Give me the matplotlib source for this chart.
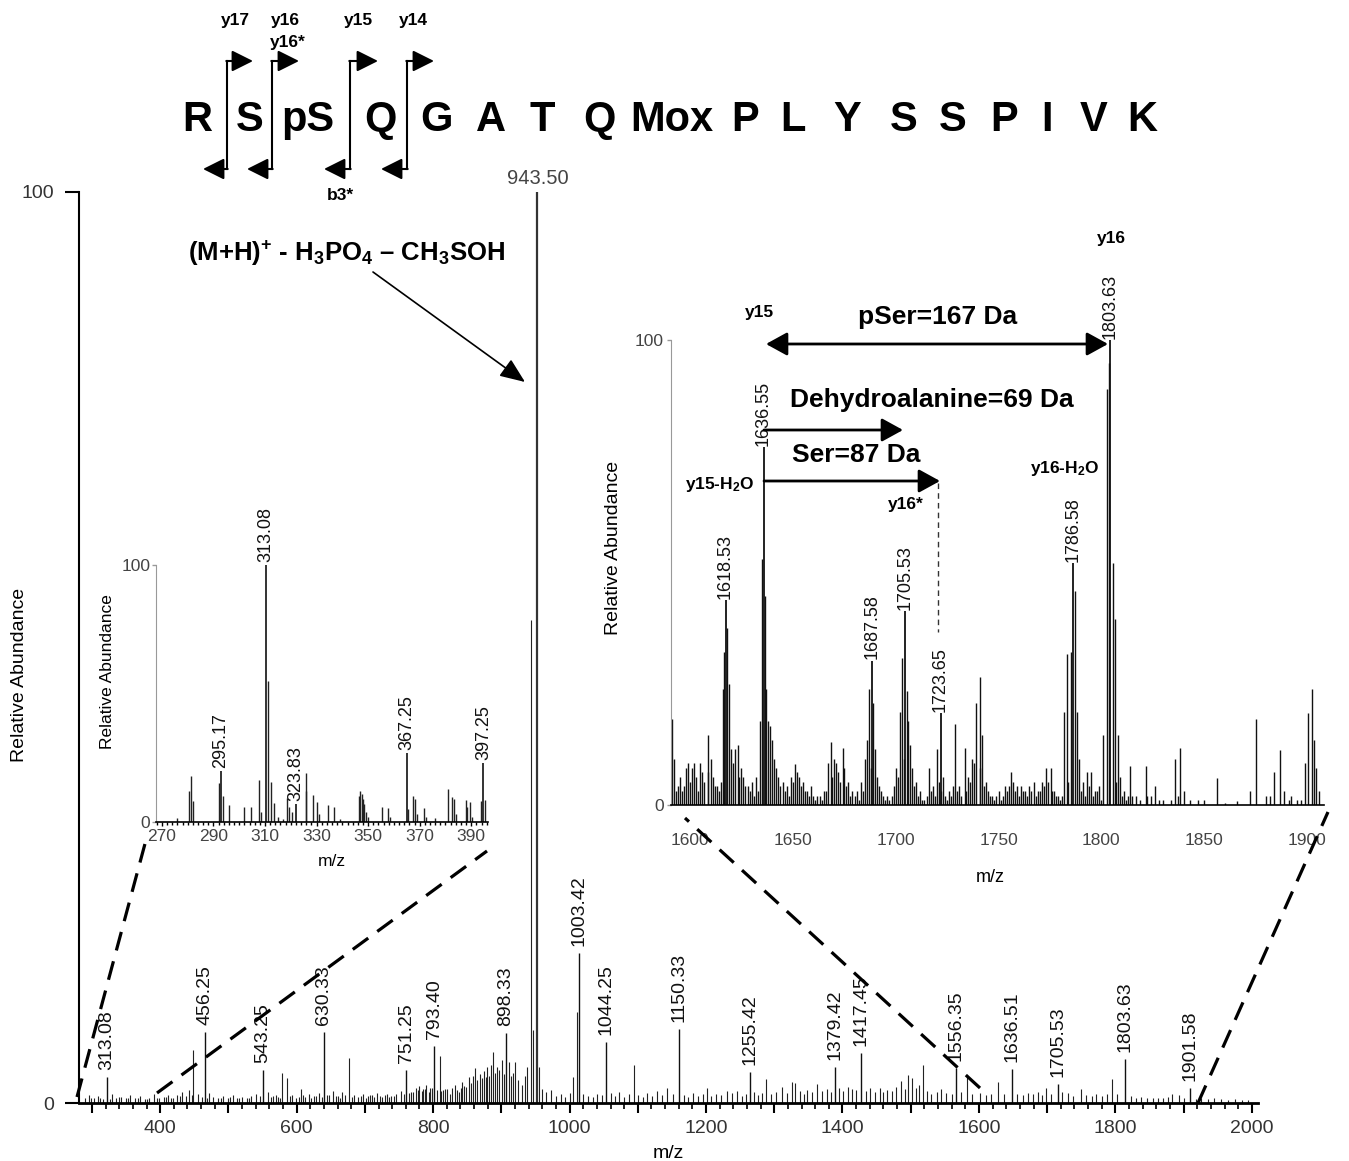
import matplotlib
matplotlib.use('Agg')
import matplotlib.pyplot as plt
from matplotlib.ticker import MultipleLocator, FuncFormatter

plt.rcParams['font.family'] = ['Liberation Sans', 'DejaVu Sans']
plt.rcParams['mathtext.fontset'] = 'custom'
plt.rcParams['mathtext.rm'] = 'Liberation Sans:bold'
plt.rcParams['mathtext.bf'] = 'Liberation Sans:bold'
plt.rcParams['mathtext.it'] = 'Liberation Sans:bold:italic'

##DATOS

# espectro principal: picos etiquetados
main_lab_mz = [322, 466, 551, 640, 761, 802, 907, 1014, 1053, 1160, 1264, 1389, 1427, 1566, 1648, 1716, 1814, 1910]
main_lab_int = [2.9, 7.8, 3.6, 7.8, 3.6, 6.3, 7.7, 16.5, 6.7, 8.1, 3.4, 4.0, 5.5, 3.8, 3.7, 2.1, 4.8, 1.6]
main_lab_txt = ['313.08', '456.25', '543.25', '630.33', '751.25', '793.40', '898.33', '1003.42', '1044.25',
                '1150.33', '1255.42', '1379.42', '1417.45', '1556.35', '1636.51', '1705.53', '1803.63', '1901.58']
base_mz = 952
base_int = 100
base_txt = '943.50'

# espectro principal: otros picos
main_mz = [448, 579, 586, 606, 618, 677, 810, 943, 946, 955, 1005, 1011, 1094, 1288, 1311, 1326, 1330, 1362,
           1486, 1496, 1502, 1518, 1582, 1628, 1698, 1795,
           820, 825, 832, 838, 843, 848, 852, 856, 859, 862, 865, 868, 871, 874, 877, 879, 882, 885, 888,
           891, 894, 897, 901, 904, 911, 914, 917, 920, 925, 930, 935, 938, 960, 966, 973,
           290, 296, 303, 309, 316, 329, 335, 342, 350, 356, 363, 370, 377, 384, 391, 398, 405, 412, 419,
           425, 432, 438, 442, 455, 472, 478, 485, 492, 499, 506, 513, 520, 527, 533, 540, 558, 565, 572,
           593, 599, 612, 625, 633, 647, 653, 660, 667, 684, 690, 697, 704, 711, 718, 725, 732, 739, 746,
           753, 768, 775, 780, 785, 790, 796, 815, 980, 987, 993, 1000, 1020, 1027, 1034, 1040, 1047, 1060,
           1066, 1073, 1080, 1087, 1100, 1107, 1114, 1121, 1128, 1135, 1143, 1152, 1167, 1174, 1181, 1188,
           1195, 1201, 1208, 1215, 1222, 1231, 1238, 1245, 1252, 1258, 1270, 1276, 1282, 1295, 1303, 1318,
           1337, 1343, 1348, 1355, 1370, 1377, 1383, 1395, 1401, 1408, 1414, 1420, 1434, 1441, 1448, 1455,
           1460, 1465, 1472, 1479, 1491, 1508, 1512, 1524, 1530, 1538, 1545, 1552, 1560, 1573, 1590, 1601,
           1610, 1617, 1637, 1656, 1664, 1672, 1679, 1686, 1692, 1705, 1722, 1730, 1738, 1749, 1757, 1765,
           1772, 1780, 1788, 1803, 1823, 1830, 1838, 1846, 1855, 1862, 1870, 1877, 1883, 1893, 1900, 1918,
           1925, 1935, 1945, 1955, 1965, 1975, 1985, 1995,
           299, 312, 326, 339, 353, 367, 381, 395, 409, 416, 429, 446, 462, 469, 489, 503, 516, 530, 547,
           562, 569, 576, 590, 603, 609, 621, 629, 637, 644, 657, 664, 671, 681, 694, 701, 708, 714, 722,
           729, 736, 743, 757, 764, 771, 778, 783, 788, 794, 799, 806, 812, 818, 828, 835, 841, 846]
main_int = [5.8, 3.3, 2.7, 1.5, 1.0, 4.9, 5.2, 53, 8, 3.9, 2.8, 10, 4.2, 2.6, 1.8, 2.3, 2.2, 2.1,
            2.4, 3.1, 2.7, 4.2, 3.1, 2.3, 1.6, 2.6,
            1.5, 1.0, 2.0, 1.2, 2.3, 1.8, 2.8, 2.2, 3.0, 3.8, 2.5, 3.2, 2.7, 3.5, 2.9, 3.9, 3.0, 4.2, 5.6,
            3.3, 4.0, 3.6, 4.7, 3.2, 4.5, 3.0, 3.3, 4.5, 2.5, 2.0, 3.0, 4.0, 1.5, 1.2, 1.4,
            0.6, 0.9, 0.5, 0.8, 0.4, 1.0, 0.6, 0.7, 0.5, 0.9, 0.6, 0.8, 0.4, 0.6, 1.0, 0.5, 0.7, 0.9, 0.6,
            0.9, 1.2, 0.8, 1.4, 1.0, 1.1, 0.7, 0.6, 0.8, 0.5, 0.9, 0.6, 0.7, 0.5, 0.8, 1.0, 1.2, 0.8, 0.7,
            0.9, 0.6, 0.7, 0.8, 1.1, 0.9, 1.3, 0.8, 1.2, 0.9, 0.7, 1.0, 0.8, 0.9, 1.1, 0.7, 1.0, 0.8, 1.0,
            1.3, 1.2, 1.6, 1.9, 1.5, 2.0, 1.7, 1.4, 0.8, 1.0, 0.7, 1.1, 1.0, 0.8, 0.7, 1.0, 0.9, 1.1,
            0.8, 1.2, 0.7, 1.0, 0.9, 0.7, 1.1, 0.8, 1.3, 0.9, 1.6, 1.0, 0.9, 0.7, 1.1, 0.8,
            1.0, 1.6, 0.8, 1.0, 0.9, 1.3, 1.1, 1.3, 0.8, 1.0, 1.2, 0.9, 1.1, 1.0, 1.2, 1.1,
            1.3, 1.0, 1.4, 1.2, 1.3, 1.5, 1.2, 1.6, 1.3, 1.8, 1.5, 1.4, 1.3, 1.6, 1.2, 1.7,
            1.2, 1.4, 1.3, 1.8, 1.5, 1.6, 2.0, 1.3, 1.0, 1.2, 1.5, 1.1, 1.0, 1.2, 1.0, 1.1,
            0.9, 1.0, 1.0, 1.0, 0.9, 1.1, 1.0, 1.2, 0.9, 1.0, 1.2, 1.1, 0.8, 1.5, 0.9, 0.8,
            1.0, 0.8, 1.0, 1.0, 0.8, 0.6, 0.7, 0.6, 0.5, 0.6, 0.5, 0.7, 1.0, 0.9, 0.6, 0.4,
            0.5, 0.4, 0.5, 0.4, 0.3, 0.4, 0.3, 0.3,
            0.5, 0.6, 0.4, 0.7, 0.5, 0.6, 0.4, 0.5, 0.7, 0.6, 0.8, 0.9, 0.7, 0.6, 0.5, 0.7, 0.6, 0.5, 0.8,
            0.7, 0.9, 0.6, 0.8, 0.7, 0.9, 0.6, 0.8, 0.7, 0.9, 0.8, 0.6, 0.9, 0.7, 0.8, 0.6, 0.9, 0.7, 0.8,
            0.9, 0.7, 0.8, 1.0, 1.1, 1.2, 1.4, 1.3, 1.5, 1.2, 1.6, 1.4, 1.3, 1.5, 1.7, 1.4, 1.6, 1.9]

# inserto izquierdo (270-390)
left_lab_mz = [292.8, 310.5, 322.0, 365.0, 394.7]
left_lab_int = [20, 100, 7, 27, 23]
left_lab_txt = ['295.17', '313.08', '323.83', '367.25', '397.25']
left_mz = [276, 280.5, 281.2, 282, 292, 293.6, 296, 301.7, 304.7, 307.5, 308.3, 311.3, 312.4, 313.4, 315, 317,
           318.6, 319.2, 320.5, 325.7, 326, 328.7, 330, 331, 334.5, 336.8, 339, 346.5, 347, 347.5, 348, 348.5,
           349.2, 350, 355.3, 357.6, 358.3, 365.5, 367.3, 368, 369, 371.5, 372.5, 376, 380.8, 382.4, 383.3,
           384, 387.8, 388.4, 389.7, 390.3, 393.8, 395.3]
left_int = [1.5, 12, 18, 8, 15, 10, 6.6, 5.8, 5.8, 16.3, 4, 55, 15.6, 7.3, 2, 1, 9.4, 6, 4, 12, 19, 10.5, 7.8, 3,
            6.6, 6, 1, 10, 12, 11, 9, 7, 4, 2, 6, 5.5, 2, 5, 10, 9, 3, 5.5, 2, 1.5, 12.8, 9.7, 9, 3, 8.5, 6,
            7.6, 2, 8, 8.5]
left_ticks = [270, 290, 310, 330, 350, 370, 390]

# inserto derecho (1600-1900)
right_lab_mz = [1617.3, 1635.8, 1688.4, 1704.5, 1721.8, 1786.2, 1804.2]
right_lab_int = [44, 77, 31, 41.7, 19.7, 52, 100]
right_lab_txt = ['1618.53', '1636.55', '1687.58', '1705.53', '1723.65', '1786.58', '1803.63']
right_mz = [1591.5, 1592.5, 1594, 1596, 1598, 1599, 1601, 1602, 1603, 1605, 1606, 1607, 1608.8, 1610, 1611,
            1613, 1616, 1616.5, 1618, 1619, 1620, 1621, 1622, 1623.5, 1625, 1626, 1628, 1630, 1632, 1634,
            1635, 1636.5, 1637, 1638, 1639, 1640, 1641, 1642, 1643, 1645, 1647, 1649, 1651, 1652, 1653, 1655,
            1657, 1659, 1662, 1665, 1667, 1668.8, 1670, 1671, 1672, 1674.3, 1675, 1677, 1679, 1681, 1683,
            1685, 1686, 1687, 1689, 1690, 1691, 1693, 1696, 1699, 1700, 1702, 1703, 1705.5, 1706, 1707, 1708,
            1710, 1712, 1716, 1718, 1720, 1723, 1726, 1729, 1731, 1733.8, 1735, 1737, 1739, 1740.8, 1742,
            1744, 1747, 1750, 1753, 1756, 1757, 1759, 1761, 1763, 1765, 1767, 1769, 1771, 1773, 1775.4,
            1777, 1779, 1782, 1783.5, 1785, 1787, 1788, 1789, 1791, 1793, 1795, 1797, 1799, 1801, 1802.5,
            1803.5, 1805.5, 1806.5, 1808, 1809, 1811, 1814, 1817, 1821.5, 1824, 1826, 1830, 1836, 1838,
            1840, 1843, 1847, 1856, 1860, 1866, 1875.3, 1880, 1884, 1886.6, 1889, 1892, 1895, 1899, 1900.5,
            1902.3, 1903.5, 1904.5, 1906,
            1593, 1595, 1597, 1600, 1604, 1609, 1612, 1614, 1615, 1624, 1627, 1629, 1631, 1633, 1644, 1646,
            1648, 1650, 1654, 1656, 1658, 1660, 1661, 1663, 1664, 1666, 1669, 1673, 1676, 1678, 1680, 1682,
            1684, 1688, 1692, 1694, 1695, 1697, 1698, 1701, 1704, 1709, 1711, 1713, 1714, 1715, 1717, 1719,
            1721, 1722, 1724, 1725, 1727, 1728, 1730, 1732, 1734, 1736, 1738, 1741, 1743, 1745, 1746, 1748,
            1749, 1751, 1752, 1754, 1755, 1758, 1760, 1762, 1764, 1766, 1768, 1770, 1772, 1774, 1776, 1778,
            1780, 1781, 1784, 1790, 1792, 1794, 1796, 1798, 1800, 1807, 1810, 1812, 1813, 1815, 1819, 1822,
            1828, 1834, 1837, 1850, 1872, 1882, 1891, 1897]
right_int = [18.4, 10, 4, 3, 8, 9, 8, 9, 6, 9, 7, 5, 15, 10, 6,
             4, 25, 33, 38, 26, 12, 9, 12, 13, 8, 6, 4, 5, 6, 18,
             53, 45, 25, 18, 17, 14, 10, 8, 6, 5, 4, 6, 8.8, 7, 6, 5,
             3, 4, 2, 3, 9, 13.6, 10, 9, 7, 12.3, 8, 5, 3, 3, 5,
             10, 14, 25, 22, 12, 6, 3, 2, 4, 8, 20, 31.6, 24.6, 18, 13, 8,
             5, 3, 8, 4, 12, 6, 3, 17.5, 4, 12.3, 6, 10, 22, 27.6, 15,
             5, 2, 3, 4, 7, 5, 4, 4, 3, 4, 5, 3, 5, 7.9, 7.9,
             3, 2, 20, 32.5, 33, 46, 20, 10, 5, 7, 7, 3, 4, 15, 89.5,
             95, 52, 40, 15, 6, 3, 8.3, 2, 8.3, 2, 4, 1, 10, 12.3,
             3, 1, 1, 5.7, 0.5, 0.8, 18.4, 2, 7, 11.8, 3, 2, 1, 9, 19.7,
             25, 14, 7.9, 3,
             3, 6, 4, 5, 3, 7, 4, 3, 5, 6, 4, 3, 2, 3, 4, 3,
             2, 5, 4, 3, 2, 2, 1, 2, 1, 3, 6, 5, 4, 2, 2, 1,
             3, 8, 4, 2, 1, 1, 2, 6, 10, 4, 2, 1, 1, 2, 3, 2,
             5, 3, 2, 1, 2, 4, 3, 2, 3, 5, 9, 8, 4, 3, 2, 1,
             2, 1, 2, 3, 4, 3, 2, 3, 2, 3, 2, 3, 4, 5, 3, 2,
             1, 2, 5, 3, 2, 4, 2, 3, 1, 5, 2, 1, 2, 2, 1, 2,
             1, 1, 2, 1, 3, 2, 1, 1]

secuencia = ['R', 'S', 'pS', 'Q', 'G', 'A', 'T', 'Q', 'Mox', 'P', 'L', 'Y', 'S', 'S', 'P', 'I', 'V', 'K']

##FIGURA

W, H = 1349, 1161


def caja(x0, y0, x1, y1):
    return [x0 / W, 1 - y1 / H, (x1 - x0) / W, (y1 - y0) / H]


fig = plt.figure(figsize=(W / 100, H / 100), dpi=100)

# ---- espectro principal
ax = fig.add_axes(caja(79, 192, 1258, 1103))
ax.set_facecolor('none')
ax.vlines(main_mz, 0, main_int, colors='#222222', lw=0.8)
ax.vlines(main_lab_mz, 0, main_lab_int, colors='#111111', lw=1.0)
ax.vlines([base_mz], 0, [base_int], colors='#333333', lw=1.6)
for m, h, t in zip(main_lab_mz, main_lab_int, main_lab_txt):
    ax.annotate(t, (m, h), xytext=(0, 5), textcoords='offset points', rotation=90,
                ha='center', va='bottom', fontsize=14, color='#111111')
ax.annotate(base_txt, (base_mz, base_int), xytext=(1, 3), textcoords='offset points',
            ha='center', va='bottom', fontsize=14.5, color='#444444')
ax.set_xlim(281, 2009)
ax.set_ylim(0, 100)
for s in ['top', 'right']:
    ax.spines[s].set_visible(False)
ax.spines['left'].set_linewidth(1.5)
ax.spines['bottom'].set_linewidth(2)
ax.xaxis.set_major_locator(MultipleLocator(100))
ax.xaxis.set_minor_locator(MultipleLocator(20))
ax.xaxis.set_major_formatter(FuncFormatter(lambda v, p: f'{v:.0f}' if v % 200 == 0 else ''))
ax.tick_params(axis='x', which='major', length=7, width=1.5, labelsize=14, pad=5, labelcolor='#333333')
ax.tick_params(axis='x', which='minor', length=4, width=1.2)
ax.set_yticks([0, 100])
ax.tick_params(axis='y', length=10, width=1.5, labelsize=14, pad=8, labelcolor='#333333')

# ---- inserto izquierdo
axl = fig.add_axes(caja(156, 565, 488, 822))
axl.set_facecolor('none')
axl.vlines(left_mz, 0, left_int, colors='#222222', lw=1.0)
axl.vlines(left_lab_mz, 0, left_lab_int, colors='#111111', lw=1.2)
for m, h, t in zip(left_lab_mz, left_lab_int, left_lab_txt):
    axl.annotate(t, (m, h), xytext=(0, 2), textcoords='offset points', rotation=90,
                 ha='center', va='bottom', fontsize=13, color='#111111')
axl.set_xlim(267.7, 396.5)
axl.set_ylim(0, 100)
for s in ['top', 'right']:
    axl.spines[s].set_visible(False)
axl.spines['left'].set_color('#999999')
axl.spines['bottom'].set_linewidth(1.2)
axl.set_xticks(left_ticks)
axl.xaxis.set_minor_locator(MultipleLocator(2))
axl.tick_params(axis='x', which='major', length=3, width=1, labelsize=12.5, pad=2, labelcolor='#444444')
axl.tick_params(axis='x', which='minor', length=2, width=1)
axl.set_yticks([0, 100])
axl.tick_params(axis='y', length=3, width=1, labelsize=12.5, pad=1, labelcolor='#444444', color='#999999')

# ---- inserto derecho
axr = fig.add_axes(caja(671, 340, 1324, 805))
axr.set_facecolor('none')
axr.vlines(right_mz, 0, right_int, colors='#111111', lw=1.0)
axr.vlines(right_lab_mz, 0, right_lab_int, colors='#111111', lw=1.3)
for m, h, t in zip(right_lab_mz, right_lab_int, right_lab_txt):
    axr.annotate(t, (m, h), xytext=(0, 1), textcoords='offset points', rotation=90,
                 ha='center', va='bottom', fontsize=13, color='#111111')
axr.set_xlim(1590.8, 1908.2)
axr.set_ylim(0, 100)
for s in ['top', 'right']:
    axr.spines[s].set_visible(False)
axr.spines['left'].set_color('#999999')
axr.spines['bottom'].set_linewidth(1.2)
axr.xaxis.set_major_locator(MultipleLocator(50))
axr.tick_params(axis='x', length=0, labelsize=12.5, pad=20, labelcolor='#444444')
axr.set_yticks([0, 100])
axr.tick_params(axis='y', length=3, width=1, labelsize=12.5, pad=2, labelcolor='#444444', color='#999999')

# ---- capa de anotaciones en pixeles
ov = fig.add_axes([0, 0, 1, 1])
ov.set_xlim(0, W)
ov.set_ylim(H, 0)
ov.axis('off')
ov.patch.set_alpha(0)

# secuencia del peptido
sec_x = [197, 250, 308, 380, 436, 491, 542, 599, 672, 745, 793, 847, 904, 953, 1004, 1047, 1094, 1142]
for x, r in zip(sec_x, secuencia):
    ov.text(x, 131, r, ha='center', va='baseline', fontsize=30, fontweight='bold')

# cortes de fragmentos
flecha = dict(arrowstyle='-|>,head_length=1.0,head_width=0.5', mutation_scale=13, lw=1.5,
              color='k', shrinkA=0, shrinkB=0)
for xv, xt, xb in [(227, 253, 203), (272, 299, 247), (350, 378, 324), (407, 434, 381)]:
    ov.plot([xv, xv], [61, 169], color='k', lw=1.5)
    ov.annotate('', xy=(xt, 61), xytext=(xv - 0.7, 61), arrowprops=flecha)
    ov.annotate('', xy=(xb, 169), xytext=(xv + 0.7, 169), arrowprops=flecha)
for x, y, t in [(235, 21, 'y17'), (285, 21, 'y16'), (288, 43, 'y16*'), (358, 21, 'y15'),
                (413, 21, 'y14'), (340, 196, 'b3*')]:
    ov.text(x, y, t, ha='center', va='center', fontsize=12.5, fontweight='bold')

# ion precursor
ov.text(347, 253, r'(M+H)$^{+}$ - H$_{3}$PO$_{4}$ – CH$_{3}$SOH', ha='center', va='center',
        fontsize=18.5, fontweight='bold')
ov.annotate('', xy=(525, 382), xytext=(373, 272),
            arrowprops=dict(arrowstyle='-|>,head_length=1.1,head_width=0.45', mutation_scale=14,
                            lw=1.2, color='k', shrinkA=0, shrinkB=0))

# anotaciones del inserto derecho
gruesa = dict(arrowstyle='-|>,head_length=1.0,head_width=0.55', mutation_scale=13, lw=2,
              color='k', shrinkA=0, shrinkB=0)
doble = dict(gruesa, arrowstyle='<|-|>,head_length=1.0,head_width=0.55')
ov.annotate('', xy=(1108, 344), xytext=(766, 344), arrowprops=doble)
ov.annotate('', xy=(903, 430), xytext=(764, 430), arrowprops=gruesa)
ov.annotate('', xy=(940, 481), xytext=(764, 481), arrowprops=gruesa)
ov.plot([938, 938], [483, 632], color='#333333', lw=1, ls=(0, (4, 3)))
ov.text(938, 317, 'pSer=167 Da', ha='center', va='center', fontsize=19, fontweight='bold')
ov.text(932, 400, 'Dehydroalanine=69 Da', ha='center', va='center', fontsize=19, fontweight='bold')
ov.text(856, 455, 'Ser=87 Da', ha='center', va='center', fontsize=19, fontweight='bold')
for x, y, t in [(1111, 238, 'y16'), (759, 312, 'y15'), (720, 485, r'y15-H$_{2}$O'),
                (906, 505, 'y16*'), (1065, 469, r'y16-H$_{2}$O')]:
    ov.text(x, y, t, ha='center', va='center', fontsize=12.5, fontweight='bold')

# lineas de zoom
zoom_lines = [((77, 1097), (146, 840)), ((157, 1093), (487, 851)),
              ((980, 1088), (685, 818)), ((1198, 1103), (1328, 812))]
for (x0, y0), (x1, y1) in zoom_lines:
    ov.plot([x0, x1], [y0, y1], color='k', lw=2.3, ls=(0, (6, 3.5)))

# etiquetas de ejes
ov.text(20, 675, 'Relative Abundance', rotation=90, ha='center', va='center', fontsize=14)
ov.text(668, 1153, 'm/z', ha='center', va='center', fontsize=14)
ov.text(107, 672, 'Relative Abundance', rotation=90, ha='center', va='center', fontsize=12.5)
ov.text(332, 862, 'm/z', ha='center', va='center', fontsize=12.5)
ov.text(614, 548, 'Relative Abundance', rotation=90, ha='center', va='center', fontsize=14)
ov.text(990, 877, 'm/z', ha='center', va='center', fontsize=13)

plt.savefig('out.png', dpi=100)
